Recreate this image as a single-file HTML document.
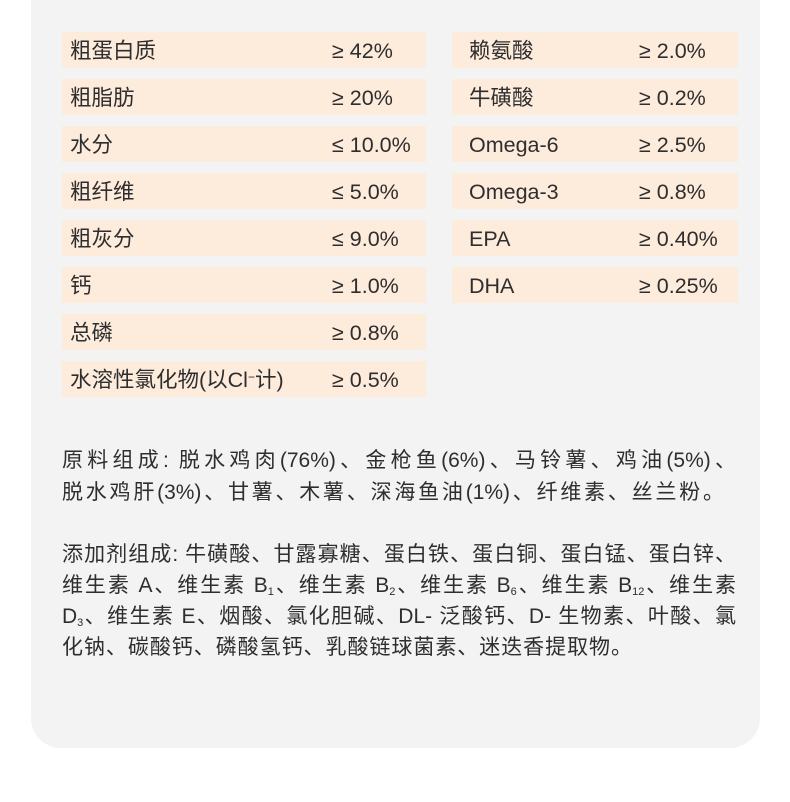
<!DOCTYPE html>
<html><head><meta charset="utf-8"><style>
body{margin:0;width:790px;height:802px;background:#fff;position:relative;overflow:hidden;font-family:"Liberation Sans","Noto Sans CJK SC",sans-serif;color:#2e2e2e}
.card{position:absolute;left:31px;top:-40px;width:729px;height:788px;background:#f3f3f3;border-radius:0 0 30px 30px}
.r{position:absolute;height:36px;background:#fdebdc;font-size:21.5px;line-height:38px}
.r span{position:absolute;top:0;white-space:nowrap}
.l{position:absolute;left:62px;width:674px;font-size:21px;white-space:nowrap;line-height:31px;text-align:justify;text-align-last:justify}
.last{text-align:left;text-align-last:left;letter-spacing:1.3px}
sub{font-size:11px;vertical-align:-3px;line-height:0}
sup{font-size:12px;line-height:0;vertical-align:6px}
</style></head><body>
<div class="card"></div>
<div class="r" style="left:62px;top:32px;width:364px"><span style="left:8px">粗蛋白质</span><span style="left:270px">≥ 42%</span></div>
<div class="r" style="left:62px;top:79px;width:364px"><span style="left:8px">粗脂肪</span><span style="left:270px">≥ 20%</span></div>
<div class="r" style="left:62px;top:126px;width:364px"><span style="left:8px">水分</span><span style="left:270px">≤ 10.0%</span></div>
<div class="r" style="left:62px;top:173px;width:364px"><span style="left:8px">粗纤维</span><span style="left:270px">≤ 5.0%</span></div>
<div class="r" style="left:62px;top:220px;width:364px"><span style="left:8px">粗灰分</span><span style="left:270px">≤ 9.0%</span></div>
<div class="r" style="left:62px;top:267px;width:364px"><span style="left:8px">钙</span><span style="left:270px">≥ 1.0%</span></div>
<div class="r" style="left:62px;top:314px;width:364px"><span style="left:8px">总磷</span><span style="left:270px">≥ 0.8%</span></div>
<div class="r" style="left:62px;top:361px;width:364px"><span style="left:8px">水溶性氯化物(以Cl<sup>−</sup>计)</span><span style="left:270px">≥ 0.5%</span></div>
<div class="r" style="left:452px;top:32px;width:286px"><span style="left:17px">赖氨酸</span><span style="left:187px">≥ 2.0%</span></div>
<div class="r" style="left:452px;top:79px;width:286px"><span style="left:17px">牛磺酸</span><span style="left:187px">≥ 0.2%</span></div>
<div class="r" style="left:452px;top:126px;width:286px"><span style="left:17px">Omega-6</span><span style="left:187px">≥ 2.5%</span></div>
<div class="r" style="left:452px;top:173px;width:286px"><span style="left:17px">Omega-3</span><span style="left:187px">≥ 0.8%</span></div>
<div class="r" style="left:452px;top:220px;width:286px"><span style="left:17px">EPA</span><span style="left:187px">≥ 0.40%</span></div>
<div class="r" style="left:452px;top:267px;width:286px"><span style="left:17px">DHA</span><span style="left:187px">≥ 0.25%</span></div>
<div class="l" style="top:445px">原料组成: 脱水鸡肉(76%)、金枪鱼(6%)、马铃薯、鸡油(5%)、</div>
<div class="l" style="top:477px;width:662px">脱水鸡肝(3%)、甘薯、木薯、深海鱼油(1%)、纤维素、丝兰粉。</div>
<div class="l" style="top:539px">添加剂组成: 牛磺酸、甘露寡糖、蛋白铁、蛋白铜、蛋白锰、蛋白锌、</div>
<div class="l" style="top:570px">维生素 A、维生素 B<sub>1</sub>、维生素 B<sub>2</sub>、维生素 B<sub>6</sub>、维生素 B<sub>12</sub>、维生素</div>
<div class="l" style="top:601px">D<sub>3</sub>、维生素 E、烟酸、氯化胆碱、DL- 泛酸钙、D- 生物素、叶酸、氯</div>
<div class="l" style="top:632px;width:570px">化钠、碳酸钙、磷酸氢钙、乳酸链球菌素、迷迭香提取物。</div>
</body></html>
